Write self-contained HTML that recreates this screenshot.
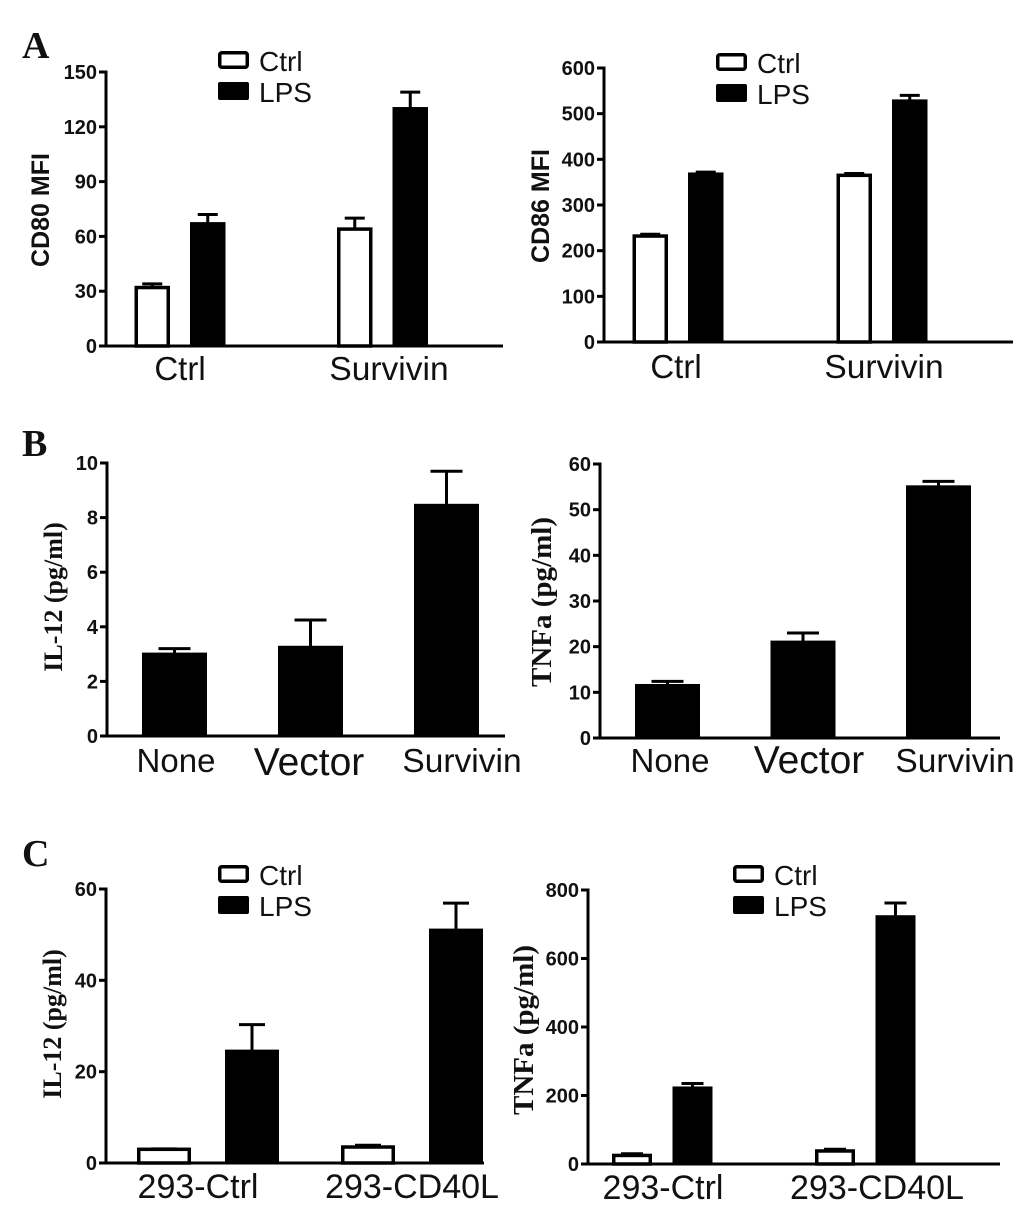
<!DOCTYPE html>
<html lang="en">
<head>
<meta charset="utf-8">
<title>Survivin bar charts</title>
<style>
html,body{margin:0;padding:0;background:#fff;}
svg{display:block;}
text{fill:#111;}
.tick{font:bold 20px "Liberation Sans",sans-serif;}
.cat{font-family:"Liberation Sans",sans-serif;}
.leg{font:28px "Liberation Sans",sans-serif;}
.ys{font:bold 25px "Liberation Sans",sans-serif;}
.yt{font-family:"Liberation Serif",serif;font-weight:bold;}
.letter{font:bold 38px "Liberation Serif",serif;}
</style>
</head>
<body>
<svg id="fig" xmlns="http://www.w3.org/2000/svg" width="1033" height="1218" viewBox="0 0 1033 1218">
  <rect width="1033" height="1218" fill="#fff"/>
  <text class="letter" x="22" y="58">A</text>
  <text class="letter" x="22" y="456">B</text>
  <text class="letter" x="22" y="866">C</text>
  <g id="marks" style="filter:blur(0.35px)"></g>
</svg>
<script>
// ---- Data ----
const a1Categories = ['Ctrl', 'Survivin'];
const a1Ticks = [0, 30, 60, 90, 120, 150];
const a1CtrlValues = [32, 64];
const a1LpsValues = [67, 130];
const a1CtrlErrTops = [34, 70];
const a1LpsErrTops = [72, 139];

const a2Categories = ['Ctrl', 'Survivin'];
const a2Ticks = [0, 100, 200, 300, 400, 500, 600];
const a2CtrlValues = [232, 365];
const a2LpsValues = [368, 528];
const a2CtrlErrTops = [236, 369];
const a2LpsErrTops = [372, 540];

const b1Categories = ['None', 'Vector', 'Survivin'];
const b1Ticks = [0, 2, 4, 6, 8, 10];
const b1Values = [3.0, 3.25, 8.45];
const b1ErrTops = [3.2, 4.25, 9.7];

const b2Categories = ['None', 'Vector', 'Survivin'];
const b2Ticks = [0, 10, 20, 30, 40, 50, 60];
const b2Values = [11.5, 21, 55];
const b2ErrTops = [12.4, 23, 56.2];

const c1Categories = ['293-Ctrl', '293-CD40L'];
const c1Ticks = [0, 20, 40, 60];
const c1CtrlValues = [3, 3.5];
const c1LpsValues = [24.5, 51];
const c1CtrlErrTops = [3.1, 3.9];
const c1LpsErrTops = [30.3, 56.9];

const c2Categories = ['293-Ctrl', '293-CD40L'];
const c2Ticks = [0, 200, 400, 600, 800];
const c2CtrlValues = [25, 38];
const c2LpsValues = [222, 722];
const c2CtrlErrTops = [30, 43];
const c2LpsErrTops = [235, 762];

// ---- Helpers ----
const NS = 'http://www.w3.org/2000/svg';
const root = document.getElementById('marks');
function make(tag, props, name, parent) {
  const el = document.createElementNS(NS, tag);
  for (const k in props) el.setAttribute(k, props[k]);
  
  
  (parent || root).appendChild(el);
  return el;
}
function label(str, props, name, parent) {
  const el = make('text', props, name, parent);
  el.textContent = str;
  return el;
}

function drawPanel(p) {
  const g = make('g', {}, p.id + '-chart');
  const maxV = p.ticks[p.ticks.length - 1];
  const yScale = v => p.y0 - (v / maxV) * (p.y0 - p.yTop);

  // bars
  p.series.forEach((s, si) => {
    s.values.forEach((v, i) => {
      const left = p.start + i * p.step + si * p.pitch;
      const top = yScale(v);
      const mid = left + p.barW / 2;
      const errY = yScale(s.errTops[i]);
      make('line', {x1: mid, x2: mid, y1: errY, y2: top, stroke: '#000', 'stroke-width': 3}, p.id + '-error-stem', g);
      make('line', {x1: mid - p.cap, x2: mid + p.cap, y1: errY, y2: errY, stroke: '#000', 'stroke-width': 3}, p.id + '-error-cap', g);
      if (s.hollow) {
        make('rect', {x: left + 1.75, y: top, width: p.barW - 3.5, height: p.y0 - top, fill: '#fff', stroke: '#000', 'stroke-width': 3.5}, p.id + '-bar-ctrl', g);
      } else {
        make('rect', {x: left, y: top - 1.5, width: p.barW, height: p.y0 - top + 1.5, fill: '#000'}, p.id + '-bar', g);
      }
    });
  });

  // axes
  make('line', {x1: p.axisX, x2: p.axisX, y1: p.yTop - 1.5, y2: p.y0 + 1.5, stroke: '#000', 'stroke-width': 3}, p.id + '-y-axis', g);
  make('line', {x1: p.axisX - 7, x2: p.xEnd, y1: p.y0, y2: p.y0, stroke: '#000', 'stroke-width': 3}, p.id + '-x-axis', g);
  p.ticks.forEach(t => {
    const y = yScale(t);
    make('line', {x1: p.axisX - 7, x2: p.axisX, y1: y, y2: y, stroke: '#000', 'stroke-width': 3}, p.id + '-y-tick', g);
    label(String(t), {class: 'tick', x: p.axisX - 9, y: y + 7, 'text-anchor': 'end'}, p.id + '-y-tick-label', g);
  });

  // category labels
  p.categories.forEach((c, i) => {
    label(c, {class: 'cat', x: p.catX[i], y: p.catY[i], 'font-size': p.catSize[i], 'text-anchor': 'middle'}, p.id + '-category-label', g);
  });

  // y title
  label(p.title, {
    class: p.titleClass, x: 0, y: 0, 'font-size': p.titleSize, 'text-anchor': 'middle',
    transform: 'translate(' + p.titleX + ',' + p.titleY + ') rotate(-90)'
  }, p.id + '-y-axis-title', g);

  // legend
  if (p.legend) {
    const L = p.legend;
    make('rect', {x: L.x + 1.75, y: L.y1 + 1.75, width: 27.5, height: L.h - 3.5, rx: 2, fill: '#fff', stroke: '#000', 'stroke-width': 3.5}, p.id + '-legend-swatch-ctrl', g);
    label('Ctrl', {class: 'leg', x: L.x + 41, y: L.y1 + L.h + 2}, p.id + '-legend-label-ctrl', g);
    make('rect', {x: L.x, y: L.y2, width: 31, height: L.h, rx: 2, fill: '#000'}, p.id + '-legend-swatch-lps', g);
    label('LPS', {class: 'leg', x: L.x + 41, y: L.y2 + L.h + 2}, p.id + '-legend-label-lps', g);
  }
}

// ---- Panels ----
drawPanel({
  id: 'cd80', ticks: a1Ticks, categories: a1Categories,
  series: [
    {values: a1CtrlValues, errTops: a1CtrlErrTops, hollow: true},
    {values: a1LpsValues, errTops: a1LpsErrTops, hollow: false}
  ],
  axisX: 106, xEnd: 503, y0: 346, yTop: 72,
  start: 134.5, step: 202.5, pitch: 55.5, barW: 35.5, cap: 10,
  catX: [180, 389], catY: [380, 380], catSize: [33, 33.5],
  title: 'CD80 MFI', titleClass: 'ys', titleSize: 25, titleX: 49, titleY: 210,
  legend: {x: 218, y1: 51, y2: 82, h: 18}
});
drawPanel({
  id: 'cd86', ticks: a2Ticks, categories: a2Categories,
  series: [
    {values: a2CtrlValues, errTops: a2CtrlErrTops, hollow: true},
    {values: a2LpsValues, errTops: a2LpsErrTops, hollow: false}
  ],
  axisX: 604, xEnd: 1013, y0: 342, yTop: 68,
  start: 632.5, step: 204, pitch: 55.5, barW: 35.5, cap: 10,
  catX: [676, 884], catY: [378, 378], catSize: [33, 33.5],
  title: 'CD86 MFI', titleClass: 'ys', titleSize: 25, titleX: 549, titleY: 206,
  legend: {x: 716, y1: 53, y2: 84, h: 18}
});
drawPanel({
  id: 'il12-b', ticks: b1Ticks, categories: b1Categories,
  series: [{values: b1Values, errTops: b1ErrTops, hollow: false}],
  axisX: 107, xEnd: 505, y0: 736, yTop: 463,
  start: 142, step: 136, pitch: 0, barW: 65, cap: 16,
  catX: [176, 309, 462], catY: [772, 775, 772], catSize: [33, 39, 33.5],
  title: 'IL-12 (pg/ml)', titleClass: 'yt', titleSize: 26, titleX: 62, titleY: 597
});
drawPanel({
  id: 'tnfa-b', ticks: b2Ticks, categories: b2Categories,
  series: [{values: b2Values, errTops: b2ErrTops, hollow: false}],
  axisX: 600, xEnd: 1000, y0: 738, yTop: 464,
  start: 635, step: 135.5, pitch: 0, barW: 65, cap: 16,
  catX: [670, 809, 955], catY: [772, 773, 772], catSize: [33, 39, 33.5],
  title: 'TNFa (pg/ml)', titleClass: 'yt', titleSize: 29, titleX: 551, titleY: 602
});
drawPanel({
  id: 'il12-c', ticks: c1Ticks, categories: c1Categories,
  series: [
    {values: c1CtrlValues, errTops: c1CtrlErrTops, hollow: true},
    {values: c1LpsValues, errTops: c1LpsErrTops, hollow: false}
  ],
  axisX: 106, xEnd: 484, y0: 1163, yTop: 889,
  start: 137, step: 204, pitch: 88, barW: 54, cap: 13,
  catX: [198, 412], catY: [1198, 1198], catSize: [34, 34],
  title: 'IL-12 (pg/ml)', titleClass: 'yt', titleSize: 26, titleX: 61, titleY: 1024,
  legend: {x: 218, y1: 865, y2: 896, h: 18}
});
drawPanel({
  id: 'tnfa-c', ticks: c2Ticks, categories: c2Categories,
  series: [
    {values: c2CtrlValues, errTops: c2CtrlErrTops, hollow: true},
    {values: c2LpsValues, errTops: c2LpsErrTops, hollow: false}
  ],
  axisX: 588, xEnd: 1000, y0: 1164, yTop: 890,
  start: 612, step: 203, pitch: 60.5, barW: 40, cap: 11,
  catX: [663, 877], catY: [1199, 1199], catSize: [34, 34],
  title: 'TNFa (pg/ml)', titleClass: 'yt', titleSize: 29, titleX: 533, titleY: 1030,
  legend: {x: 733, y1: 865, y2: 896, h: 18}
});
</script>
</body>
</html>
